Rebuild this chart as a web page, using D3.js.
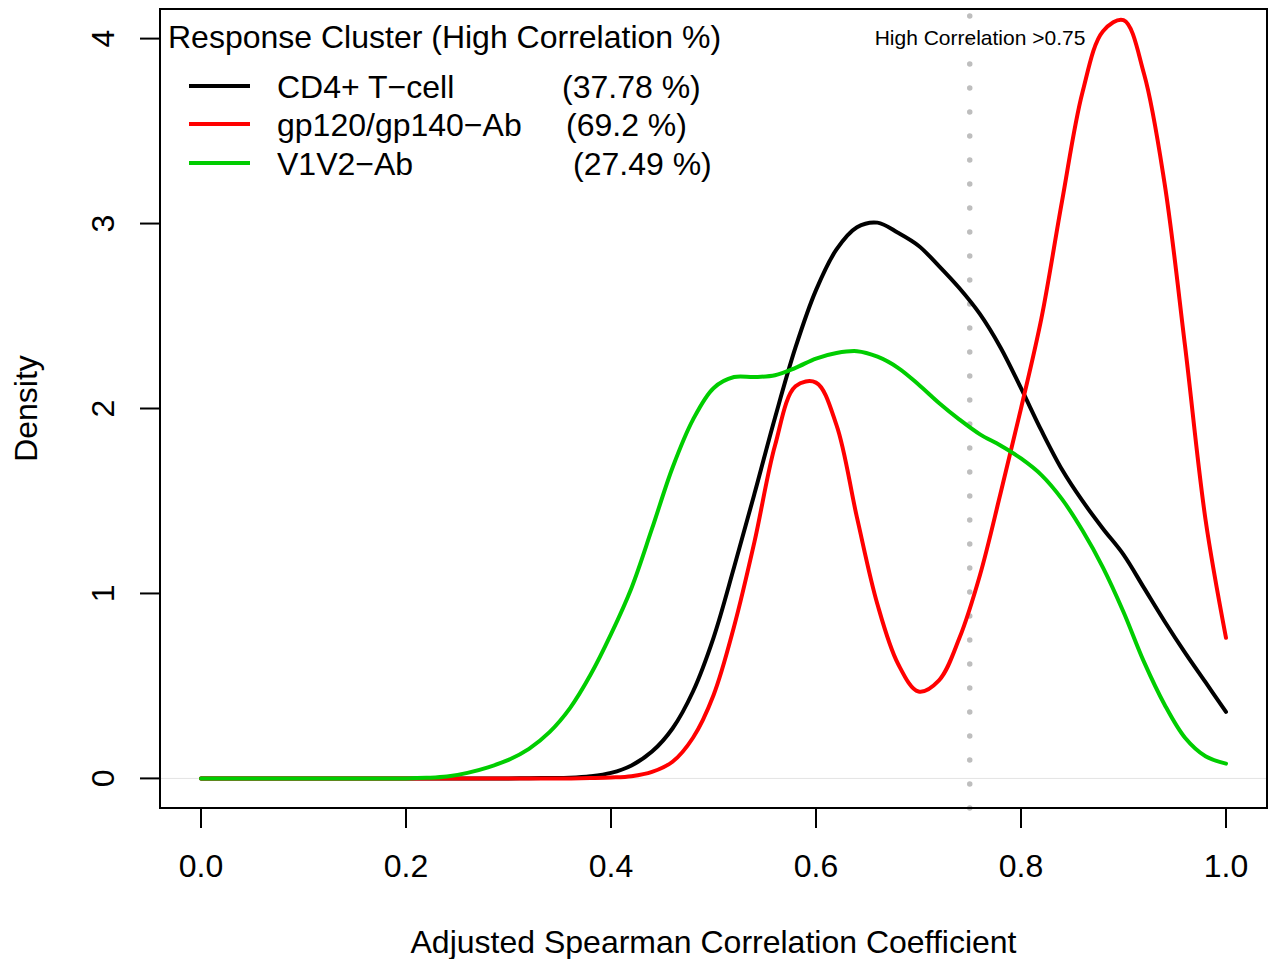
<!DOCTYPE html>
<html>
<head>
<meta charset="utf-8">
<script src="https://cdn.jsdelivr.net/npm/d3@7"></script>
<style>
  body { margin: 0; background: #fff; }
  svg text { font-family: "Liberation Sans", Arial, Helvetica, sans-serif; fill: #000; }
</style>
</head>
<body>
<div id="chart"></div>
<script>
// sampling grid for the density curves
const xGrid = [0.00, 0.02, 0.04, 0.06, 0.08, 0.10, 0.12, 0.14, 0.16, 0.18,
  0.20, 0.22, 0.24, 0.26, 0.28, 0.30, 0.32, 0.34, 0.36, 0.38,
  0.40, 0.42, 0.44, 0.46, 0.48, 0.50, 0.52, 0.54, 0.56, 0.58,
  0.60, 0.62, 0.64, 0.66, 0.68, 0.70, 0.72, 0.74, 0.76, 0.78,
  0.80, 0.82, 0.84, 0.86, 0.88, 0.90, 0.92, 0.94, 0.96, 0.98, 1.00];

// density values
const cd4 = [0, 0, 0, 0, 0, 0, 0, 0, 0, 0,
  0, 0, 0, 0, 0, 0, 0.001, 0.002, 0.004, 0.012,
  0.03, 0.07, 0.145, 0.27, 0.47, 0.76, 1.14, 1.54, 1.95, 2.33,
  2.64, 2.86, 2.98, 3.005, 2.95, 2.88, 2.77, 2.65, 2.51, 2.33,
  2.11, 1.88, 1.67, 1.50, 1.35, 1.21, 1.03, 0.85, 0.68, 0.52, 0.36];

const gp120 = [0, 0, 0, 0, 0, 0, 0, 0, 0, 0,
  0, 0, 0, 0, 0, 0, 0, 0, 0, 0.002,
  0.005, 0.012, 0.035, 0.09, 0.22, 0.45, 0.82, 1.28, 1.80, 2.12,
  2.14, 1.91, 1.41, 0.94, 0.62, 0.47, 0.53, 0.76, 1.10, 1.54,
  2.00, 2.49, 3.12, 3.71, 4.04, 4.10, 3.81, 3.22, 2.34, 1.40, 0.76];

const v1v2 = [0, 0, 0, 0, 0, 0, 0, 0, 0, 0,
  0, 0.003, 0.01, 0.03, 0.06, 0.10, 0.16, 0.25, 0.38, 0.56,
  0.78, 1.03, 1.35, 1.68, 1.94, 2.11, 2.17, 2.17, 2.18, 2.22,
  2.27, 2.30, 2.31, 2.28, 2.22, 2.13, 2.03, 1.94, 1.86, 1.80,
  1.73, 1.64, 1.51, 1.34, 1.14, 0.90, 0.63, 0.40, 0.22, 0.12, 0.08];

const seriesNames = ["CD4+ T\u2212cell", "gp120/gp140\u2212Ab", "V1V2\u2212Ab"];
const seriesPct = ["(37.78 %)", "(69.2 %)", "(27.49 %)"];
const seriesColors = ["#000000", "#ff0000", "#00cd00"];
const xTicks = [0, 0.2, 0.4, 0.6, 0.8, 1.0];
const yTicks = [0, 1, 2, 3, 4];
const cutoff = 0.75;

const width = 1273, height = 959;
const box = { left: 160, right: 1267, top: 9, bottom: 808 };

const svg = d3.select("#chart").append("svg")
  .attr("width", width)
  .attr("height", height);

const x = d3.scaleLinear().domain([-0.04, 1.04]).range([box.left, box.right]);
const y = d3.scaleLinear().domain([-0.16, 4.16]).range([box.bottom, box.top]);

// zero line
svg.append("line")
  .attr("x1", box.left).attr("x2", box.right)
  .attr("y1", y(0)).attr("y2", y(0))
  .attr("stroke", "#e3e3e3").attr("stroke-width", 1);

// cutoff line, dotted
svg.append("line")
  .attr("x1", x(cutoff)).attr("x2", x(cutoff))
  .attr("y1", box.bottom).attr("y2", box.top)
  .attr("stroke", "#bebebe")
  .attr("stroke-width", 5.5)
  .attr("stroke-linecap", "round")
  .attr("stroke-dasharray", "0 24");

// curves
const line = d3.line()
  .x((d, i) => x(xGrid[i]))
  .y(d => y(d))
  .curve(d3.curveCatmullRom.alpha(0.5));

[cd4, gp120, v1v2].forEach((s, k) => {
  svg.append("path")
    .datum(s)
    .attr("d", line)
    .attr("fill", "none")
    .attr("stroke", seriesColors[k])
    .attr("stroke-width", 4)
    .attr("stroke-linejoin", "round")
    .attr("stroke-linecap", "round");
});

// frame
svg.append("rect")
  .attr("x", box.left).attr("y", box.top)
  .attr("width", box.right - box.left).attr("height", box.bottom - box.top)
  .attr("fill", "none").attr("stroke", "#000").attr("stroke-width", 2);

// x axis
const xAxis = svg.append("g");
xAxis.selectAll("line").data(xTicks).enter().append("line")
  .attr("x1", d => x(d)).attr("x2", d => x(d))
  .attr("y1", box.bottom).attr("y2", box.bottom + 20)
  .attr("stroke", "#000").attr("stroke-width", 2);
xAxis.selectAll("text").data(xTicks).enter().append("text")
  .attr("x", d => x(d)).attr("y", 877)
  .attr("text-anchor", "middle")
  .style("font-size", "32px")
  .text(d => d3.format(".1f")(d));

// y axis
const yAxis = svg.append("g");
yAxis.selectAll("line").data(yTicks).enter().append("line")
  .attr("x1", box.left - 20).attr("x2", box.left)
  .attr("y1", d => y(d)).attr("y2", d => y(d))
  .attr("stroke", "#000").attr("stroke-width", 2);
yAxis.selectAll("text").data(yTicks).enter().append("text")
  .attr("transform", d => `translate(114,${y(d)}) rotate(-90)`)
  .attr("text-anchor", "middle")
  .style("font-size", "32px")
  .text(d => d);

// axis titles
svg.append("text")
  .attr("x", (box.left + box.right) / 2).attr("y", 953)
  .attr("text-anchor", "middle")
  .style("font-size", "32px")
  .text("Adjusted Spearman Correlation Coefficient");

svg.append("text")
  .attr("transform", `translate(37,${(box.top + box.bottom) / 2}) rotate(-90)`)
  .attr("text-anchor", "middle")
  .style("font-size", "32px")
  .text("Density");

// cutoff label
svg.append("text")
  .attr("x", 980).attr("y", 44.5)
  .attr("text-anchor", "middle")
  .style("font-size", "21px")
  .text("High Correlation >0.75");

// legend
const legend = svg.append("g");
legend.append("text")
  .attr("x", 168).attr("y", 48)
  .style("font-size", "32px")
  .text("Response Cluster (High Correlation %)");

const rowY = [86, 124, 163];
const pctX = [562, 566, 573];
const rows = legend.selectAll("g.row").data(seriesNames).enter().append("g");
rows.append("line")
  .attr("x1", 189).attr("x2", 250)
  .attr("y1", (d, i) => rowY[i]).attr("y2", (d, i) => rowY[i])
  .attr("stroke", (d, i) => seriesColors[i])
  .attr("stroke-width", 4);
rows.append("text")
  .attr("x", 277).attr("y", (d, i) => rowY[i] + 11.5)
  .style("font-size", "32px")
  .text(d => d);
rows.append("text")
  .attr("x", (d, i) => pctX[i]).attr("y", (d, i) => rowY[i] + 11.5)
  .style("font-size", "32px")
  .text((d, i) => seriesPct[i]);
</script>
</body>
</html>
